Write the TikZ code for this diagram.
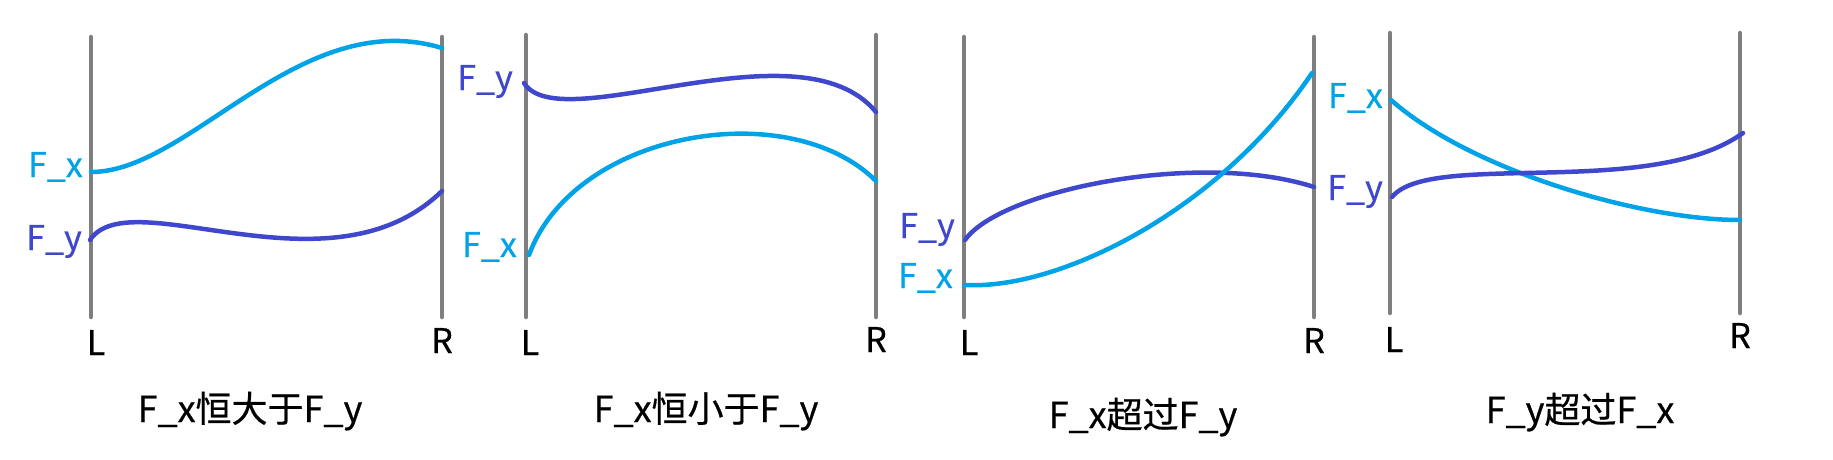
\documentclass[tikz,border=0pt]{standalone}
\usepackage{fontspec}
\setmainfont{Noto Sans CJK SC}[FakeBold=0.6]
\definecolor{barcol}{HTML}{7F7F7F}
\definecolor{fxcol}{HTML}{00A2E8}
\definecolor{fycol}{HTML}{3F48CC}
\tikzset{
  bar/.style={draw=barcol, line width=4.5pt, line cap=round},
  fxline/.style={draw=fxcol, line width=4.5pt, line cap=round},
  fyline/.style={draw=fycol, line width=4.5pt, line cap=round},
  lab/.style={font=\fontsize{34}{40}\selectfont, inner sep=0pt},
  fxlab/.style={lab, text=fxcol, anchor=base east},
  fylab/.style={lab, text=fycol, anchor=base east},
  endlab/.style={lab, text=black, anchor=base},
  title/.style={font=\fontsize{36}{42}\selectfont, inner sep=0pt, anchor=base, text=black}
}
\begin{document}
\begin{tikzpicture}[x=1pt, y=-1pt]
\useasboundingbox (0,0) rectangle (1833,459);
% ---------- panel 1 ----------
\coordinate (b1Lt) at (91,37);  \coordinate (b1Lb) at (91,317);
\coordinate (b1Rt) at (442,37); \coordinate (b1Rb) at (442,317);
\coordinate (x1L) at (91,172);  \coordinate (x1R) at (442,48);
\coordinate (y1L) at (90,240);  \coordinate (y1R) at (442,191);
\draw[bar] (b1Lt) -- (b1Lb);
\draw[bar] (b1Rt) -- (b1Rb);
\draw[fxline] (x1L) .. controls (190,172) and (300,5) .. (x1R);
\draw[fyline] (y1L) .. controls (130,180) and (330,300) .. (y1R);
\node[fxlab] (fx1) at (83,177) {F\_x};
\node[fylab] (fy1) at (82,250) {F\_y};
\node[endlab] (L1) at (96,355) {L};
\node[endlab] (R1) at (442,353) {R};
\node[title] (t1) at (250,422) {F\_x恒大于F\_y};
% ---------- panel 2 ----------
\coordinate (b2Lt) at (526,35);  \coordinate (b2Lb) at (526,317);
\coordinate (b2Rt) at (876,35);  \coordinate (b2Rb) at (876,317);
\coordinate (y2L) at (524,83);   \coordinate (y2R) at (876,112);
\coordinate (x2L) at (529,255);  \coordinate (x2R) at (876,181);
\draw[bar] (b2Lt) -- (b2Lb);
\draw[bar] (b2Rt) -- (b2Rb);
\draw[fyline] (y2L) .. controls (560,140) and (800,20) .. (y2R);
\draw[fxline] (x2L) .. controls (575,130) and (790,95) .. (x2R);
\node[fylab] (fy2) at (513,90) {F\_y};
\node[fxlab] (fx2) at (517,257) {F\_x};
\node[endlab] (L2) at (530,355) {L};
\node[endlab] (R2) at (876,352) {R};
\node[title] (t2) at (706,422) {F\_x恒小于F\_y};
% ---------- panel 3 ----------
\coordinate (b3Lt) at (964,37);  \coordinate (b3Lb) at (964,317);
\coordinate (b3Rt) at (1314,37); \coordinate (b3Rb) at (1314,317);
\coordinate (y3L) at (965,240);  \coordinate (y3R) at (1314,187);
\coordinate (x3L) at (965,285);  \coordinate (x3R) at (1312,73);
\draw[bar] (b3Lt) -- (b3Lb);
\draw[bar] (b3Rt) -- (b3Rb);
\draw[fyline] (y3L) .. controls (1000,190) and (1200,150) .. (y3R);
\draw[fxline] (x3L) .. controls (1060,290) and (1220,210) .. (x3R);
\node[fylab] (fy3) at (955,238) {F\_y};
\node[fxlab] (fx3) at (953,288) {F\_x};
\node[endlab] (L3) at (969,355) {L};
\node[endlab] (R3) at (1314,353) {R};
\node[title] (t3) at (1143,428) {F\_x超过F\_y};
% ---------- panel 4 ----------
\coordinate (b4Lt) at (1390,33);  \coordinate (b4Lb) at (1390,313);
\coordinate (b4Rt) at (1740,33);  \coordinate (b4Rb) at (1740,313);
\coordinate (x4L) at (1391,100);  \coordinate (x4R) at (1740,220);
\coordinate (y4L) at (1392,197);  \coordinate (y4R) at (1743,133);
\draw[bar] (b4Lt) -- (b4Lb);
\draw[bar] (b4Rt) -- (b4Rb);
\draw[fxline] (x4L) .. controls (1470,170) and (1640,220) .. (x4R);
\draw[fyline] (y4L) .. controls (1430,150) and (1650,200) .. (y4R);
\node[fxlab] (fx4) at (1383,108) {F\_x};
\node[fylab] (fy4) at (1383,200) {F\_y};
\node[endlab] (L4) at (1394,352) {L};
\node[endlab] (R4) at (1740,348) {R};
\node[title] (t4) at (1580,423) {F\_y超过F\_x};
\end{tikzpicture}
\end{document}
